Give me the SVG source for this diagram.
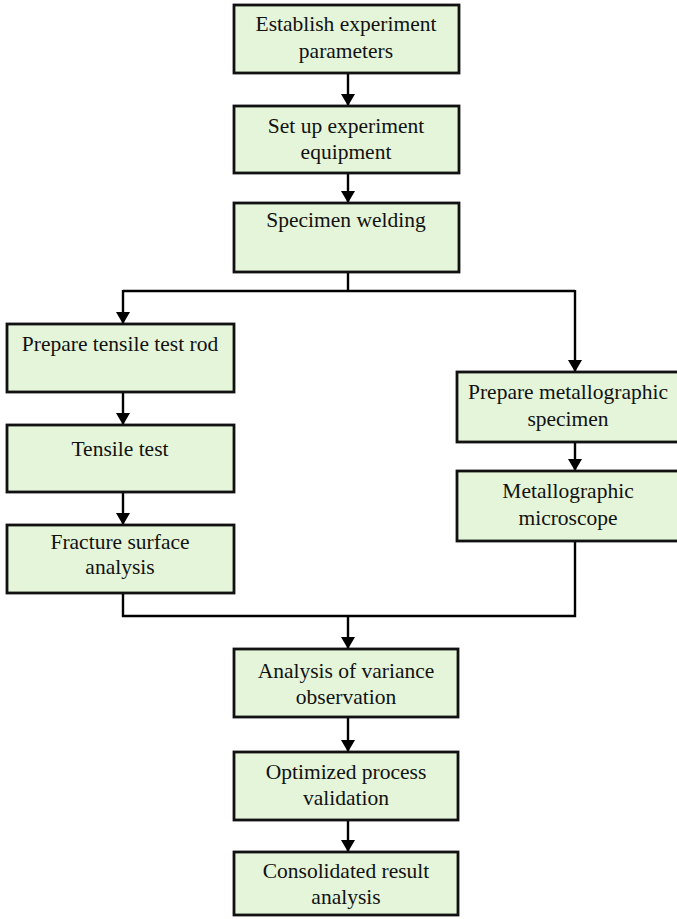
<svg xmlns="http://www.w3.org/2000/svg" width="677" height="919" viewBox="0 0 677 919">
  <defs>
    <marker id="arrow" viewBox="0 0 12 14" refX="12" refY="7" markerWidth="12" markerHeight="14" markerUnits="userSpaceOnUse" orient="auto">
      <path d="M0,0 L12,7 L0,14 Z" fill="#000"/>
    </marker>
    <style>
      .box { fill: #e5f5d9; stroke: #111; stroke-width: 2.8; }
      .lbl { font-family: "Liberation Serif", "Times New Roman", serif; font-size: 21.5px; fill: #111; text-anchor: middle; }
      .link { fill: none; stroke: #000; stroke-width: 2.4; }
      .arr { marker-end: url(#arrow); }
    </style>
  </defs>
  <rect width="677" height="919" fill="#fff"/>

  <!-- connectors -->
  <g id="connectors">
    <line class="link arr" x1="348" y1="73" x2="348" y2="106"/>
    <line class="link arr" x1="348" y1="173" x2="348" y2="203"/>
    <line class="link" x1="348" y1="272" x2="348" y2="291"/>
    <polyline class="link" points="123,291 575,291"/>
    <line class="link arr" x1="123" y1="290" x2="123" y2="324"/>
    <line class="link arr" x1="575" y1="290" x2="575" y2="372"/>
    <line class="link arr" x1="123" y1="392" x2="123" y2="425"/>
    <line class="link arr" x1="123" y1="492" x2="123" y2="525"/>
    <line class="link arr" x1="575" y1="442" x2="575" y2="471"/>
    <polyline class="link" points="123,593 123,616 575,616 575,541"/>
    <line class="link arr" x1="348" y1="616" x2="348" y2="649"/>
    <line class="link arr" x1="348" y1="717" x2="348" y2="752"/>
    <line class="link arr" x1="348" y1="820" x2="348" y2="852"/>
  </g>

  <g id="establish-parameters">
    <rect class="box" x="234" y="5" width="225" height="68"/>
    <text class="lbl" x="346" y="31">Establish experiment</text>
    <text class="lbl" x="346" y="58">parameters</text>
  </g>

  <g id="setup-equipment">
    <rect class="box" x="234" y="106" width="225" height="67"/>
    <text class="lbl" x="346" y="133">Set up experiment</text>
    <text class="lbl" x="346" y="159">equipment</text>
  </g>

  <g id="specimen-welding">
    <rect class="box" x="234" y="203" width="225" height="69"/>
    <text class="lbl" x="346" y="227">Specimen welding</text>
  </g>

  <g id="prepare-tensile-rod">
    <rect class="box" x="7" y="324" width="227" height="68"/>
    <text class="lbl" x="120" y="351">Prepare tensile test rod</text>
  </g>

  <g id="tensile-test">
    <rect class="box" x="7" y="425" width="227" height="67"/>
    <text class="lbl" x="120" y="456">Tensile test</text>
  </g>

  <g id="fracture-analysis">
    <rect class="box" x="7" y="525" width="227" height="68"/>
    <text class="lbl" x="120" y="549">Fracture surface</text>
    <text class="lbl" x="120" y="574">analysis</text>
  </g>

  <g id="prepare-metallographic">
    <rect class="box" x="457" y="372" width="222" height="70"/>
    <text class="lbl" x="568" y="399">Prepare metallographic</text>
    <text class="lbl" x="568" y="426">specimen</text>
  </g>

  <g id="metallographic-microscope">
    <rect class="box" x="457" y="471" width="222" height="70"/>
    <text class="lbl" x="568" y="498">Metallographic</text>
    <text class="lbl" x="568" y="525">microscope</text>
  </g>

  <g id="variance-analysis">
    <rect class="box" x="234" y="649" width="224" height="68"/>
    <text class="lbl" x="346" y="678">Analysis of variance</text>
    <text class="lbl" x="346" y="704">observation</text>
  </g>

  <g id="process-validation">
    <rect class="box" x="234" y="752" width="224" height="68"/>
    <text class="lbl" x="346" y="779">Optimized process</text>
    <text class="lbl" x="346" y="805">validation</text>
  </g>

  <g id="result-analysis">
    <rect class="box" x="234" y="852" width="224" height="63"/>
    <text class="lbl" x="346" y="878">Consolidated result</text>
    <text class="lbl" x="346" y="904">analysis</text>
  </g>
</svg>
